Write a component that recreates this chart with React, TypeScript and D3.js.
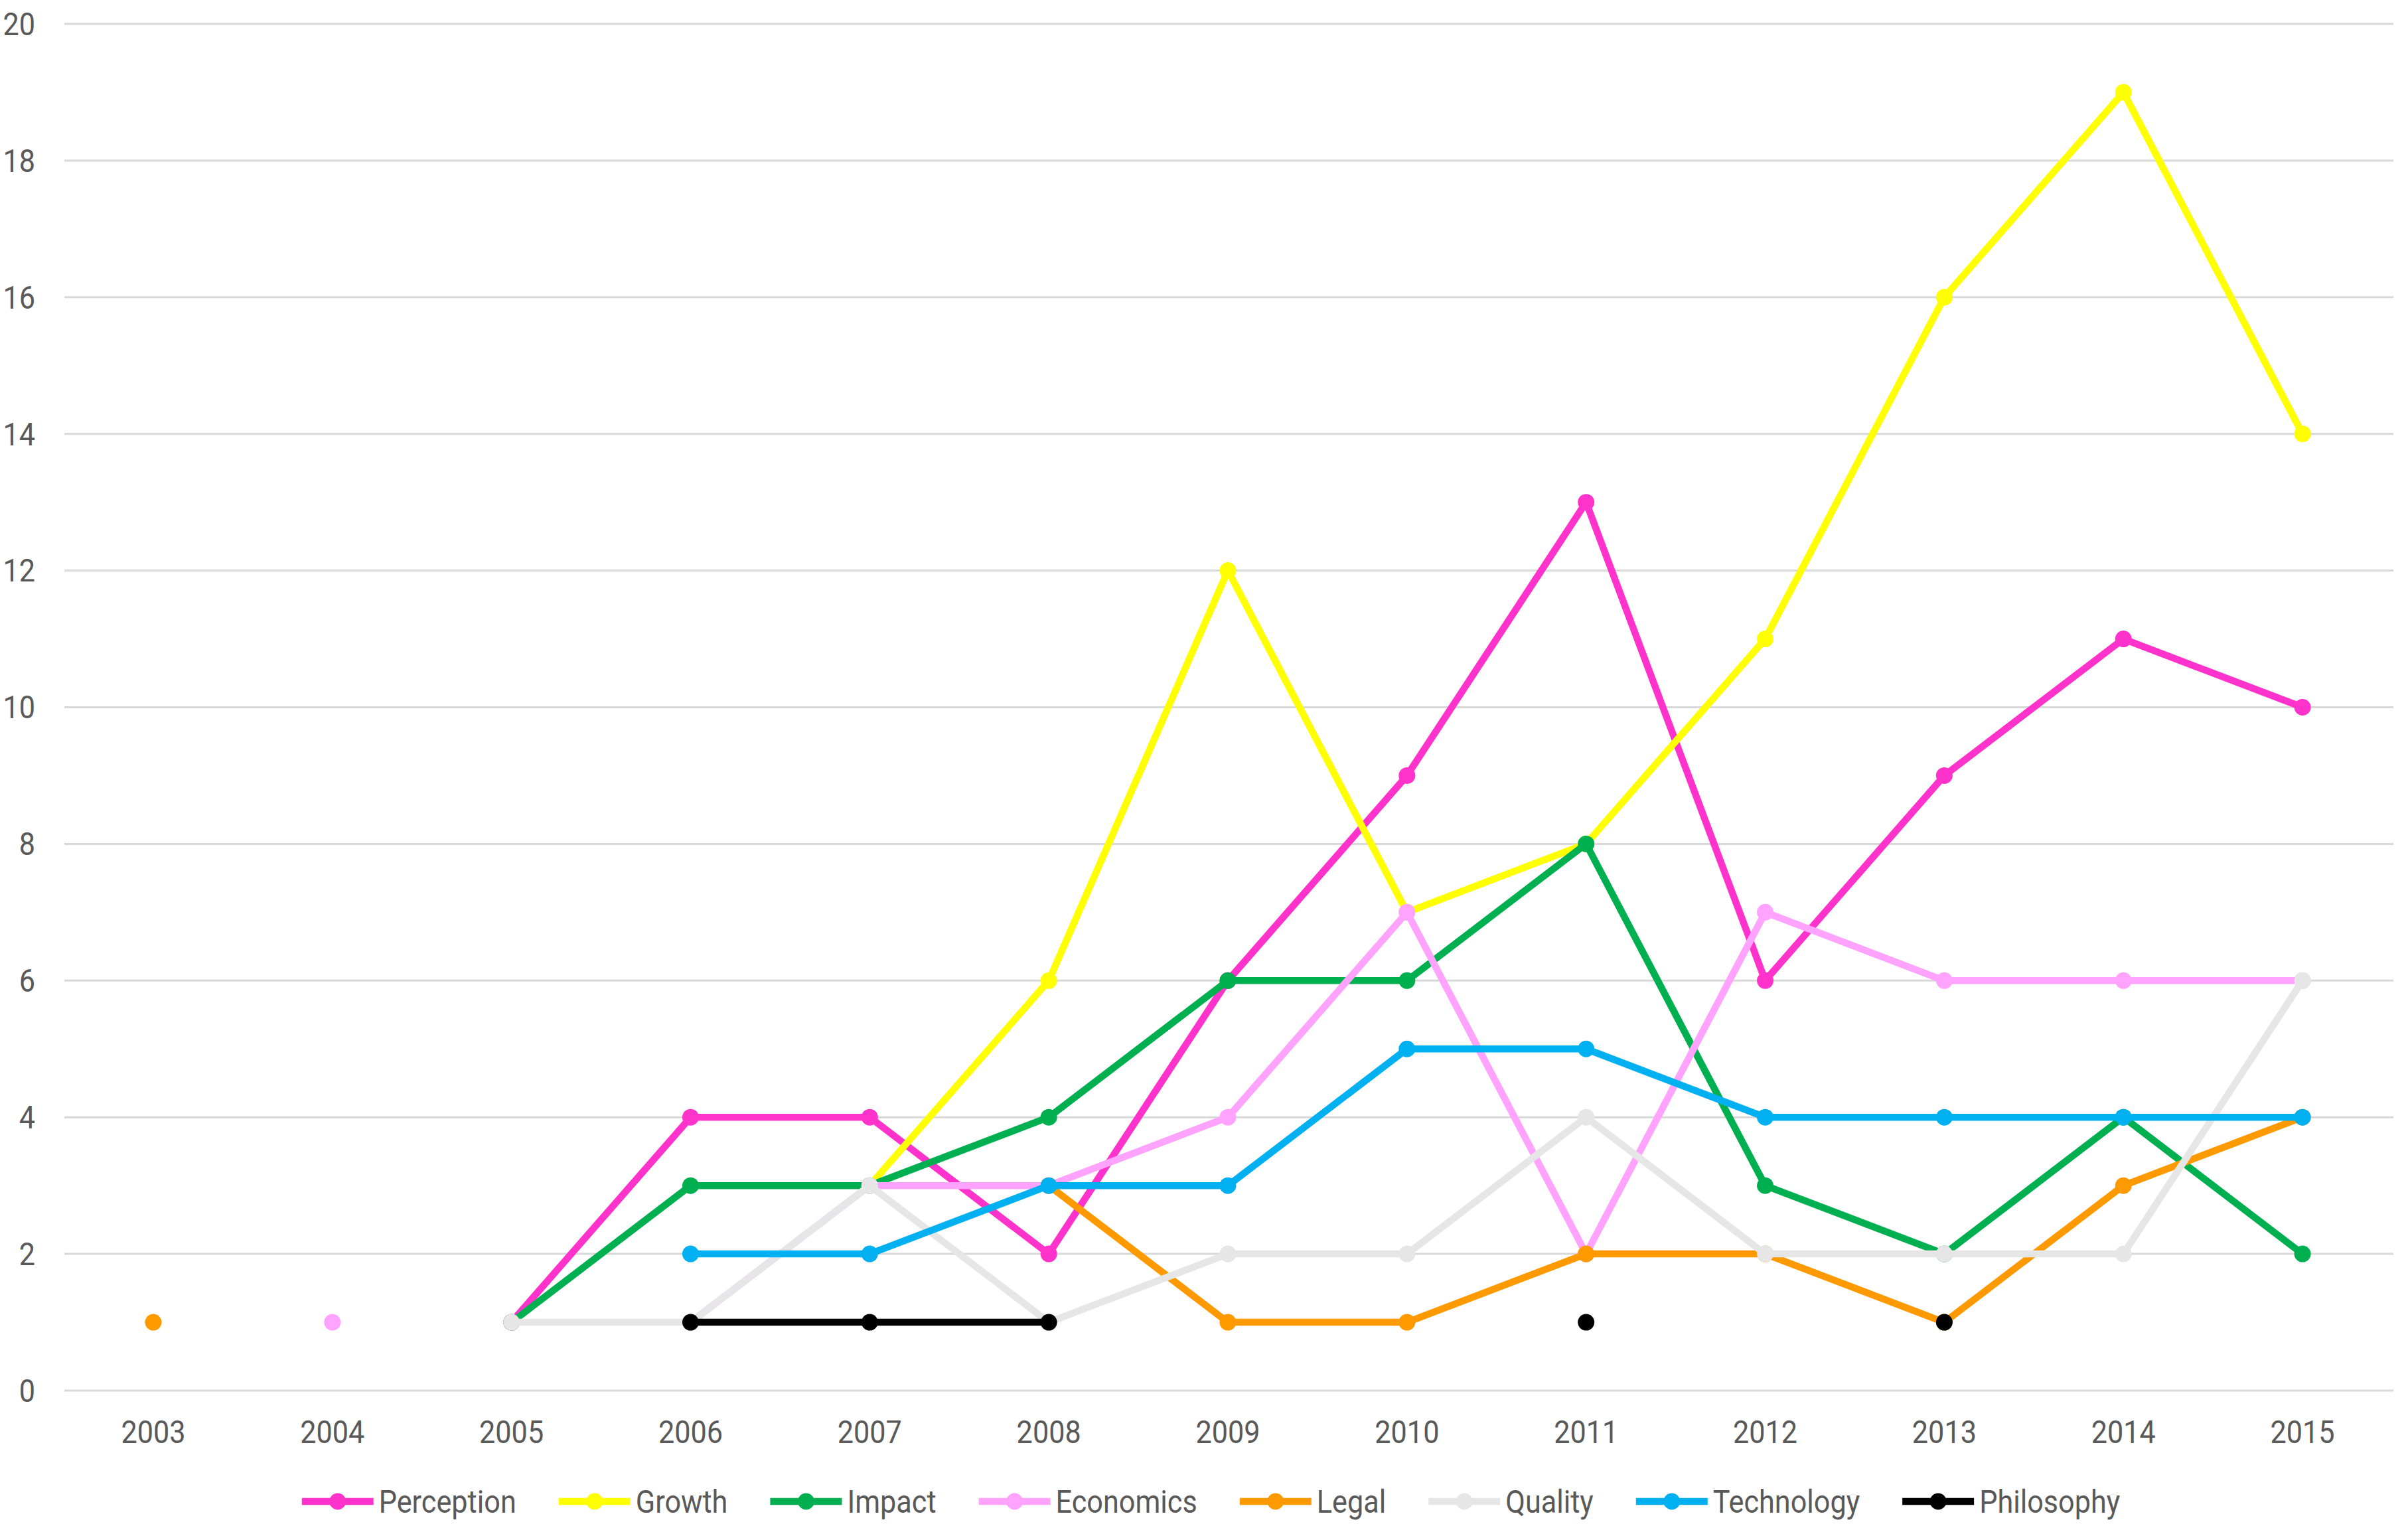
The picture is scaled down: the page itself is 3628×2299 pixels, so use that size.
import React from "react";
import * as d3 from "d3";

const years = ["2003","2004","2005","2006","2007","2008","2009","2010","2011","2012","2013","2014","2015"];
const yTicks = [0, 2, 4, 6, 8, 10, 12, 14, 16, 18, 20];

const perception = [null, null, 1, 4, 4, 2, 6, 9, 13, 6, 9, 11, 10];
const growth = [null, null, null, null, 3, 6, 12, 7, 8, 11, 16, 19, 14];
const impact = [null, null, 1, 3, 3, 4, 6, 6, 8, 3, 2, 4, 2];
const economics = [null, 1, null, 1, 3, 3, 4, 7, 2, 7, 6, 6, 6];
const legal = [1, null, null, null, null, 3, 1, 1, 2, 2, 1, 3, 4];
const quality = [null, null, 1, 1, 3, 1, 2, 2, 4, 2, 2, 2, 6];
const technology = [null, null, null, 2, 2, 3, 3, 5, 5, 4, 4, 4, 4];
const philosophy = [null, null, null, 1, 1, 1, null, null, 1, null, 1, null, null];

const seriesNames = ["Perception","Growth","Impact","Economics","Legal","Quality","Technology","Philosophy"];
const seriesValues = [perception, growth, impact, economics, legal, quality, technology, philosophy];
const seriesColors = ["#FF33CC","#FFFF00","#00B050","#FFA3FF","#FF9900","#E7E6E6","#00B0F0","#000000"];

const W = 3628, H = 2299;
const FONT = "'Liberation Sans Narrow', 'Arial Narrow', Roboto, sans-serif";
const FS = 48;
const SX = 0.9;
const TXT = "#595959";

function measure(text: string): number {
  if (typeof document === "undefined") return text.length * 22;
  const c = document.createElement("canvas");
  const ctx = c.getContext("2d");
  if (!ctx) return text.length * 22;
  ctx.font = `${FS}px ${FONT}`;
  return ctx.measureText(text).width * SX;
}

function Label(props: { x: number; y: number; anchor?: string; children: React.ReactNode }) {
  return (
    <g transform={`translate(${props.x},${props.y}) scale(${SX},1)`}>
      <text x={0} y={0} dy="0.35em" textAnchor={props.anchor || "start"} fontFamily={FONT} fontSize={FS} fill={TXT}>
        {props.children}
      </text>
    </g>
  );
}

export default function App() {
  const x = d3.scalePoint<string>().domain(years).range([96, 3604]).padding(0.5);
  const y = d3.scaleLinear().domain([0, 20]).range([2095, 36]);

  const line = d3
    .line<number | null>()
    .defined((d) => d != null)
    .x((_, i) => x(years[i]) as number)
    .y((d) => y(d as number));

  // legend layout
  const lineLen = 108, gapText = 8, gapItem = 64;
  const widths = seriesNames.map(measure);
  const total = widths.reduce((a, w) => a + lineLen + gapText + w, 0) + gapItem * (seriesNames.length - 1);
  const legendStart = 457 + (3192 - 457 - total) / 2;
  let cur = legendStart;
  const legendItems = seriesNames.map((n, i) => {
    const item = { name: n, x: cur, color: seriesColors[i], w: widths[i] };
    cur += lineLen + gapText + widths[i] + gapItem;
    return item;
  });
  const legendY = 2262;

  return (
    <svg width={W} height={H} style={{ position: "absolute", left: 0, top: 0, background: "#fff" }}>
      <rect x={0} y={0} width={W} height={H} fill="#fff" />
      {yTicks.map((t) => (
        <g key={t}>
          <line x1={97} x2={3606} y1={y(t)} y2={y(t)} stroke="#D9D9D9" strokeWidth={3} />
          <Label x={53} y={y(t)} anchor="end">{t}</Label>
        </g>
      ))}
      {years.map((yr) => (
        <Label key={yr} x={x(yr) as number} y={2157} anchor="middle">{yr}</Label>
      ))}
      {seriesValues.map((vals, si) => (
        <g key={seriesNames[si]}>
          <path d={line(vals) || ""} fill="none" stroke={seriesColors[si]} strokeWidth={10.5} strokeLinejoin="round" />
          {vals.map((v, i) =>
            v == null ? null : (
              <circle key={i} cx={x(years[i])} cy={y(v)} r={12.5} fill={seriesColors[si]} />
            )
          )}
        </g>
      ))}
      {legendItems.map((it) => (
        <g key={it.name}>
          <line x1={it.x} x2={it.x + lineLen} y1={legendY} y2={legendY} stroke={it.color} strokeWidth={10.5} />
          <circle cx={it.x + lineLen / 2} cy={legendY} r={12.5} fill={it.color} />
          <Label x={it.x + lineLen + gapText} y={legendY}>{it.name}</Label>
        </g>
      ))}
    </svg>
  );
}
